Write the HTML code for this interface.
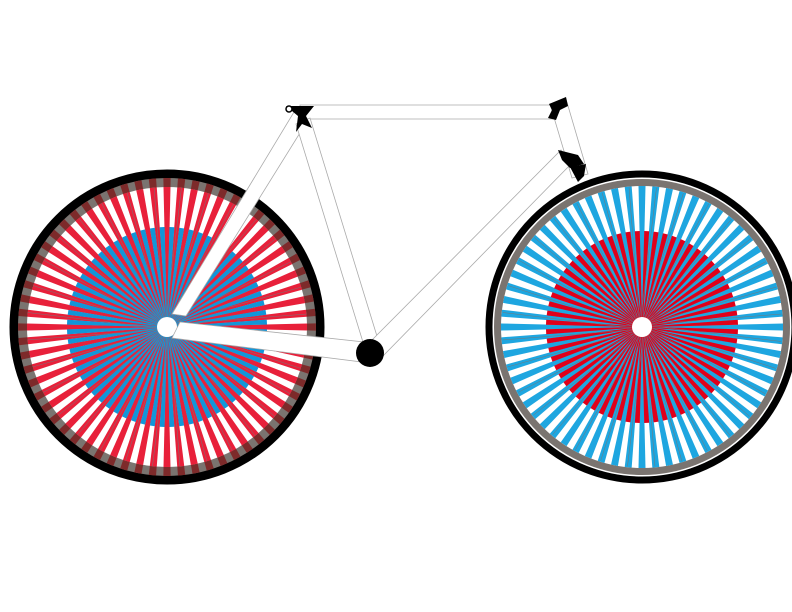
<!DOCTYPE html>
<html><head><meta charset="utf-8"><style>
html,body{margin:0;padding:0;background:#fff;width:792px;height:612px;overflow:hidden}
svg{display:block}
</style></head><body>
<svg id="s" width="792" height="612" viewBox="0 0 792 612">
<g id="rear"></g>
<g id="front"></g>
<g id="frame" fill="#fff" stroke="#aaa" stroke-width="0.8">
  <polygon points="294,112 308,120 186,316 172,314"/>
  <polygon points="180,322 364,342 362,362 172,338"/>
  <polygon points="300,105 562,105 562,119 300,119"/>
  <polygon points="296,124 310,118 380,346 366,352"/>
  <polygon points="370,342 561,150 572,163 382,357"/>
  <polygon points="550,104 566,99 588,174 572,178"/>
  <circle cx="370" cy="353" r="14" fill="#000" stroke="none"/>
  <path d="M286,106 L314,106 L306,116 L312,128 L302,124 L296,132 L298,116 Z" fill="#000" stroke="none"/>
  <circle cx="289" cy="109" r="3" fill="#fff" stroke="#000" stroke-width="1.5"/>
  <path d="M549,104 L566,97 L568,106 L560,110 L556,120 L548,118 L552,110 Z" fill="#000" stroke="none"/>
  <path d="M558,150 L578,155 L584,164 L570,168 L562,160 Z" fill="#000" stroke="none"/>
  <path d="M570,167 L586,164 L584,176 L578,182 Z" fill="#000" stroke="none"/>
</g>
</svg>
<script>
const NS='http://www.w3.org/2000/svg';
function mk(tag,attrs,parent){const e=document.createElementNS(NS,tag);for(const k in attrs)e.setAttribute(k,attrs[k]);parent.appendChild(e);return e;}
function bars(g,cx,cy,r,n,color,off,bw,name){
  for(let i=0;i<n;i++){
    const deg=(i+off)/n*360;
    const pts=`${cx+8},${cy-0.4} ${cx+r},${cy-bw/2} ${cx+r},${cy+bw/2} ${cx+8},${cy+0.4}`;
    const el=mk('polygon',{points:pts,fill:color,transform:`rotate(${deg} ${cx} ${cy})`},g);
    
    
  }
}
function wheel(id,cx,cy,outerColor,innerColor,rOuter,rInner,segmented,tireW){
  const g=document.getElementById(id);
  let t=mk('circle',{cx,cy,r:153,fill:'none',stroke:'#000','stroke-width':tireW},g);
  
  let rim=mk('circle',{cx,cy,r:144.5,fill:'none',stroke:'#7a7470','stroke-width':segmented?9:7},g);
  
  if(segmented){
    for(let i=0;i<64;i++){const a=i/64*2*Math.PI,w=Math.PI/64*0.5;
      const p=[[cx+140*Math.cos(a-w),cy+140*Math.sin(a-w)],[cx+149*Math.cos(a-w),cy+149*Math.sin(a-w)],[cx+149*Math.cos(a+w),cy+149*Math.sin(a+w)],[cx+140*Math.cos(a+w),cy+140*Math.sin(a+w)]];
      const el=mk('polygon',{points:p.map(q=>q.join(',')).join(' '),fill:'#7d2a2a'},g);
      }
  }
  bars(g,cx,cy,rOuter,64,outerColor,0,7,'outer-spoke');
  bars(g,cx,cy,rInner,64,innerColor,0.5,5,'inner-spoke');
  for(let i=0;i<32;i++){const a=i/32*2*Math.PI+0.05;
    const l=mk('line',{x1:cx+8*Math.cos(a),y1:cy+8*Math.sin(a),x2:cx+140*Math.cos(a+0.25),y2:cy+140*Math.sin(a+0.25),stroke:'#777','stroke-width':0.5},g);
    }
  const h=mk('circle',{cx,cy,r:10,fill:'#fff'},g);
  
}
wheel('rear',167,327,'#e8203a','#1296d8',140,100,true,9);
wheel('front',642,327,'#1ea6e0','#e0001a',141,96,false,7);
</script>
</body></html>
